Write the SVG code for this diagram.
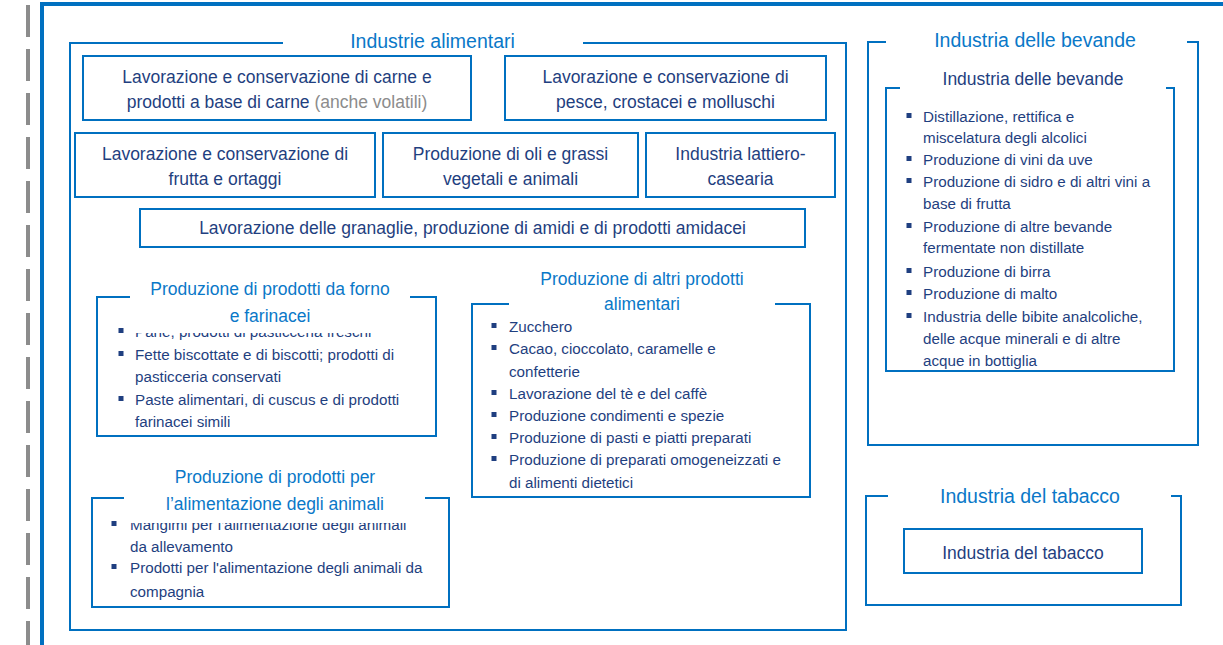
<svg xmlns="http://www.w3.org/2000/svg" width="1223" height="645" viewBox="0 0 1223 645">
<style>
text{font-family:"Liberation Sans",Arial,sans-serif}
.h1{font-size:19.5px;fill:#0a78c8;text-anchor:middle}
.h2{font-size:17.5px;fill:#0a78c8;text-anchor:middle}
.bx{font-size:17.5px;fill:#1f3f80;text-anchor:middle}
.gr{fill:#8c8c8c}
.bl{font-size:15.2px;fill:#1f3f80}
.box{fill:#fff;stroke:#0070c0;stroke-width:2}
.br{fill:none;stroke:#0070c0;stroke-width:2}
.sq{fill:#1f3f80}
</style>
<rect width="1223" height="645" fill="#fff"/>
<g id="frame">
<line x1="28" y1="5" x2="28" y2="645" stroke="#8c8c8c" stroke-width="4" stroke-dasharray="32 12"/>
<path d="M42,647 V4 H1225" fill="none" stroke="#0070c0" stroke-width="4"/>
</g>
<g id="connectors"></g>
<g id="industrie-alimentari">
<path class="br" d="M283,43 H70 V630 H846 V43 H583"/>
<text class="h1" x="432.5" y="48">Industrie alimentari</text>
</g>
<g id="carne">
<rect class="box" x="83" y="56" width="388" height="64"/>
<text class="bx" x="277" y="83">Lavorazione e conservazione di carne e</text>
<text class="bx" x="277" y="108">prodotti a base di carne <tspan class="gr">(anche volatili)</tspan></text>
</g>
<g id="pesce">
<rect class="box" x="505" y="56" width="321" height="64"/>
<text class="bx" x="665.5" y="83">Lavorazione e conservazione di</text>
<text class="bx" x="665.5" y="108">pesce, crostacei e molluschi</text>
</g>
<g id="frutta">
<rect class="box" x="75" y="133" width="300" height="64"/>
<text class="bx" x="225" y="160">Lavorazione e conservazione di</text>
<text class="bx" x="225" y="185">frutta e ortaggi</text>
</g>
<g id="oli">
<rect class="box" x="383" y="133" width="255" height="64"/>
<text class="bx" x="510.5" y="160">Produzione di oli e grassi</text>
<text class="bx" x="510.5" y="185">vegetali e animali</text>
</g>
<g id="lattiero">
<rect class="box" x="646" y="133" width="189" height="64"/>
<text class="bx" x="740.5" y="160">Industria lattiero-</text>
<text class="bx" x="740.5" y="185">casearia</text>
</g>
<g id="granaglie">
<rect class="box" x="140" y="209" width="665" height="38"/>
<text class="bx" x="472.5" y="234">Lavorazione delle granaglie, produzione di amidi e di prodotti amidacei</text>
</g>
<g id="forno">
<path class="br" d="M130,297 H97 V436 H436 V297 H410"/>
<rect class="sq" x="118.5" y="328" width="5" height="5"/>
<rect class="sq" x="118.5" y="351" width="5" height="5"/>
<rect class="sq" x="118.5" y="396" width="5" height="5"/>
<text class="bl" x="135" y="337">Pane, prodotti di pasticceria freschi</text>
<text class="bl" x="135" y="360">Fette biscottate e di biscotti; prodotti di</text>
<text class="bl" x="135" y="382">pasticceria conservati</text>
<text class="bl" x="135" y="405">Paste alimentari, di cuscus e di prodotti</text>
<text class="bl" x="135" y="427">farinacei simili</text>
<rect x="131" y="280" width="278" height="53" fill="#fff"/>
<text class="h2" x="270" y="295">Produzione di prodotti da forno</text>
<text class="h2" x="270" y="322">e farinacei</text>
</g>
<g id="altri">
<path class="br" d="M509,304 H472 V497 H810 V304 H775"/>
<text class="h2" x="642" y="285">Produzione di altri prodotti</text>
<text class="h2" x="642" y="310">alimentari</text>
<rect class="sq" x="491.5" y="323" width="5" height="5"/>
<rect class="sq" x="491.5" y="345" width="5" height="5"/>
<rect class="sq" x="491.5" y="390" width="5" height="5"/>
<rect class="sq" x="491.5" y="412" width="5" height="5"/>
<rect class="sq" x="491.5" y="434" width="5" height="5"/>
<rect class="sq" x="491.5" y="456" width="5" height="5"/>
<text class="bl" x="509" y="332">Zucchero</text>
<text class="bl" x="509" y="354">Cacao, cioccolato, caramelle e</text>
<text class="bl" x="509" y="377">confetterie</text>
<text class="bl" x="509" y="399">Lavorazione del tè e del caffè</text>
<text class="bl" x="509" y="421">Produzione condimenti e spezie</text>
<text class="bl" x="509" y="443">Produzione di pasti e piatti preparati</text>
<text class="bl" x="509" y="465">Produzione di preparati omogeneizzati e</text>
<text class="bl" x="509" y="488">di alimenti dietetici</text>
</g>
<g id="animali">
<path class="br" d="M124,498 H92 V607 H449 V498 H425"/>
<rect class="sq" x="111.5" y="521" width="5" height="5"/>
<rect class="sq" x="111.5" y="564" width="5" height="5"/>
<text class="bl" x="130" y="530">Mangimi per l'alimentazione degli animali</text>
<text class="bl" x="130" y="552">da allevamento</text>
<text class="bl" x="130" y="573">Prodotti per l'alimentazione degli animali da</text>
<text class="bl" x="130" y="597">compagnia</text>
<rect x="125" y="466" width="299" height="57" fill="#fff"/>
<text class="h2" x="275" y="483">Produzione di prodotti per</text>
<text class="h2" x="275" y="510">l’alimentazione degli animali</text>
</g>
<g id="bevande">
<path class="br" d="M886,42 H868 V445 H1198 V42 H1187"/>
<text class="h1" x="1035" y="47">Industria delle bevande</text>
</g>
<g id="bevande-inner">
<path class="br" d="M900,88 H886 V371 H1174 V88 H1166"/>
<text class="bx" x="1033" y="85">Industria delle bevande</text>
<rect class="sq" x="906.5" y="113" width="5" height="5"/>
<rect class="sq" x="906.5" y="156" width="5" height="5"/>
<rect class="sq" x="906.5" y="178" width="5" height="5"/>
<rect class="sq" x="906.5" y="223" width="5" height="5"/>
<rect class="sq" x="906.5" y="268" width="5" height="5"/>
<rect class="sq" x="906.5" y="290" width="5" height="5"/>
<rect class="sq" x="906.5" y="313" width="5" height="5"/>
<text class="bl" x="923" y="122">Distillazione, rettifica e</text>
<text class="bl" x="923" y="143">miscelatura degli alcolici</text>
<text class="bl" x="923" y="165">Produzione di vini da uve</text>
<text class="bl" x="923" y="187">Produzione di sidro e di altri vini a</text>
<text class="bl" x="923" y="209">base di frutta</text>
<text class="bl" x="923" y="232">Produzione di altre bevande</text>
<text class="bl" x="923" y="253">fermentate non distillate</text>
<text class="bl" x="923" y="277">Produzione di birra</text>
<text class="bl" x="923" y="299">Produzione di malto</text>
<text class="bl" x="923" y="322">Industria delle bibite analcoliche,</text>
<text class="bl" x="923" y="344">delle acque minerali e di altre</text>
<text class="bl" x="923" y="366">acque in bottiglia</text>
</g>
<g id="tabacco">
<path class="br" d="M888,496 H866 V605 H1181 V496 H1171"/>
<text class="h1" x="1030" y="503">Industria del tabacco</text>
</g>
<g id="tabacco-inner">
<rect class="box" x="904" y="529" width="238" height="44"/>
<text class="bx" x="1023" y="559">Industria del tabacco</text>
</g>
</svg>
